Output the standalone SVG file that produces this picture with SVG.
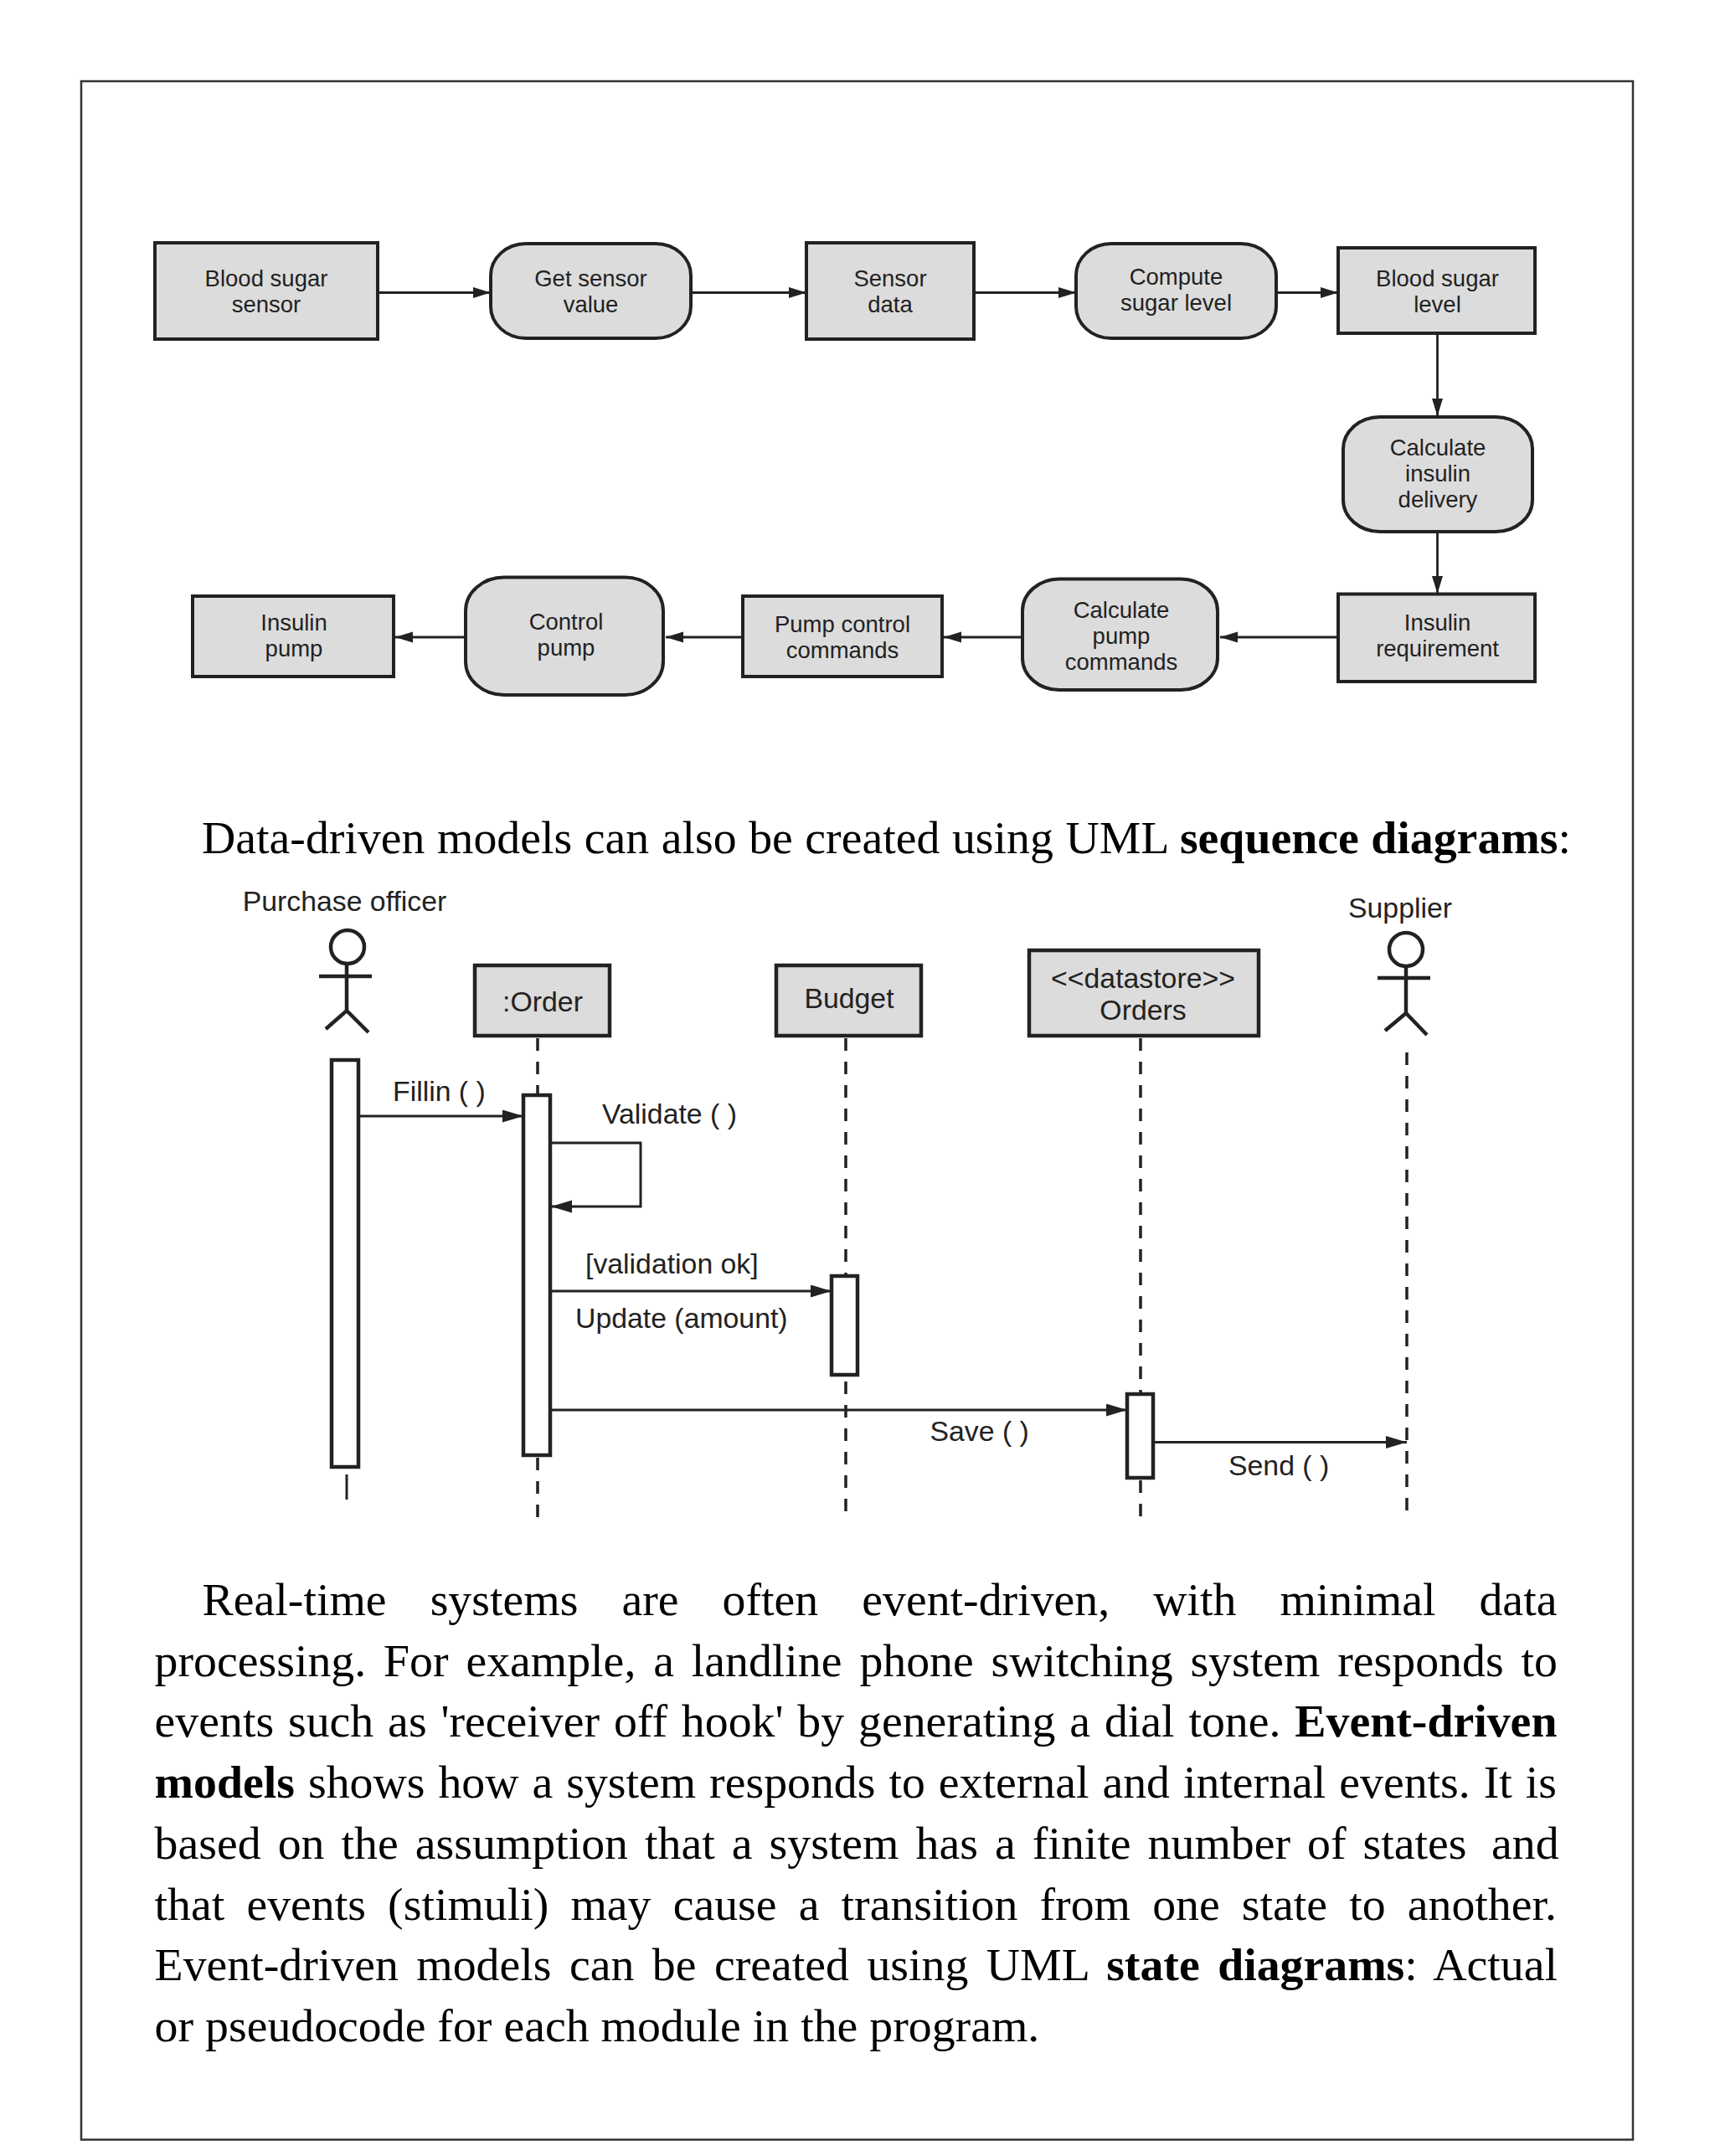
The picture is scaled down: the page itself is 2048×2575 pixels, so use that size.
<svg xmlns="http://www.w3.org/2000/svg" width="2048" height="2575" viewBox="0 0 2048 2575">
<style>
.box{fill:#dcdcdc;stroke:#222;stroke-width:4}
.sbox{fill:#dcdcdc;stroke:#222;stroke-width:4.5}
.act{fill:#fff;stroke:#222;stroke-width:4.5}
.lbl{font-family:"Liberation Sans",Arial,sans-serif;font-size:27.5px;fill:#222;text-anchor:middle}
.seq{font-family:"Liberation Sans",Arial,sans-serif;font-size:33.8px;fill:#222}
.mid{text-anchor:middle}
.body{font-family:"Liberation Serif","Times New Roman",serif;font-size:55.8px;fill:#000}
.b{font-weight:bold}
.con{fill:none;stroke:#222;stroke-width:2.8;marker-end:url(#ah)}
.msg{fill:none;stroke:#222;stroke-width:3;marker-end:url(#ah2)}
.plain{fill:none;stroke:#222;stroke-width:3}
.life{fill:none;stroke:#222;stroke-width:3.5;stroke-dasharray:15 13}
.fig{fill:none;stroke:#222;stroke-width:4.5}
</style>
<defs>
<marker id="ah" markerUnits="userSpaceOnUse" markerWidth="22" markerHeight="14" refX="21" refY="6.500" orient="auto">
<path d="M0 0L21 6.500L0 13Z" fill="#222"/>
</marker>
<marker id="ah2" markerUnits="userSpaceOnUse" markerWidth="26" markerHeight="16" refX="25" refY="7.500" orient="auto">
<path d="M0 0L25 7.500L0 15Z" fill="#222"/>
</marker>
</defs>
<rect width="2048" height="2575" fill="#fff"/>
<rect id="frame" x="97" y="97" width="1853" height="2458.500" fill="none" stroke="#333" stroke-width="2.5"/>

<g id="n-blood-sensor"><rect class="box" x="185" y="290" width="266" height="115"/><text class="lbl" x="318" y="342">Blood sugar<tspan x="318" y="373">sensor</tspan></text></g>
<g id="n-get-sensor"><rect class="box" x="586" y="291" width="239" height="113" rx="42" ry="38"/><text class="lbl" x="705.500" y="342">Get sensor<tspan x="705.500" y="373">value</tspan></text></g>
<g id="n-sensor-data"><rect class="box" x="963" y="290" width="200" height="115"/><text class="lbl" x="1063" y="342">Sensor<tspan x="1063" y="373">data</tspan></text></g>
<g id="n-compute"><rect class="box" x="1285" y="291" width="239" height="113" rx="42" ry="38"/><text class="lbl" x="1404.500" y="340">Compute<tspan x="1404.500" y="371">sugar level</tspan></text></g>
<g id="n-blood-level"><rect class="box" x="1598" y="296" width="235" height="102"/><text class="lbl" x="1716.500" y="342">Blood sugar<tspan x="1716.500" y="373">level</tspan></text></g>
<g id="n-calc-insulin"><rect class="box" x="1604" y="498" width="226" height="137" rx="44" ry="38"/><text class="lbl" x="1717" y="543.500">Calculate<tspan x="1717" y="574.500">insulin</tspan><tspan x="1717" y="605.500">delivery</tspan></text></g>
<g id="n-insulin-req"><rect class="box" x="1598" y="709.500" width="235" height="104.500"/><text class="lbl" x="1716.500" y="753">Insulin<tspan x="1716.500" y="784">requirement</tspan></text></g>
<g id="n-calc-pump"><rect class="box" x="1221" y="691.500" width="233" height="132.500" rx="44" ry="38"/><text class="lbl" x="1339" y="738">Calculate<tspan x="1339" y="769">pump</tspan><tspan x="1339" y="800">commands</tspan></text></g>
<g id="n-pump-cmd"><rect class="box" x="887" y="712" width="238" height="96"/><text class="lbl" x="1006" y="755">Pump control<tspan x="1006" y="786">commands</tspan></text></g>
<g id="n-control-pump"><rect class="box" x="556" y="689.500" width="236" height="140.500" rx="46" ry="40"/><text class="lbl" x="676" y="752">Control<tspan x="676" y="783">pump</tspan></text></g>
<g id="n-insulin-pump"><rect class="box" x="230" y="712" width="240" height="96"/><text class="lbl" x="351" y="753">Insulin<tspan x="351" y="784">pump</tspan></text></g>

<g id="connectors">
<path class="con" d="M451 349.500H586"/>
<path class="con" d="M825 349.500H963"/>
<path class="con" d="M1163 349.500H1285"/>
<path class="con" d="M1524 349.500H1598"/>
<path class="con" d="M1716.500 398V497"/>
<path class="con" d="M1716.500 635V709"/>
<path class="con" d="M1598 761H1457"/>
<path class="con" d="M1221 761H1127"/>
<path class="con" d="M887 761H795"/>
<path class="con" d="M556 761H472"/>
<path class="life" d="M642 1240V1308M642 1741V1812"/>
<path class="life" d="M1010 1240V1524M1010 1650V1806"/>
<path class="life" d="M1362 1240V1665M1362 1768V1811"/>
<path class="life" d="M1680 1257V1806"/>
<path class="plain" d="M414 1761V1791"/>
<path class="msg" d="M430 1333H625"/>
<path class="msg" d="M658 1365H765V1441H658"/>
<path class="msg" d="M658 1542H993"/>
<path class="msg" d="M658 1684H1346"/>
<path class="msg" d="M1378 1722.500H1680"/>
<text class="seq" x="469" y="1314.500">Fillin ( )</text>
<text class="seq" x="719" y="1341.500">Validate ( )</text>
<text class="seq" x="699" y="1520.500">[validation ok]</text>
<text class="seq" x="687" y="1585.500">Update (amount)</text>
<text class="seq" x="1110.500" y="1720.500">Save ( )</text>
<text class="seq" x="1467" y="1761.500">Send ( )</text>
</g>

<g id="a-purchase">
<text class="seq mid" x="411.500" y="1087.500">Purchase officer</text>
<ellipse class="fig" cx="415" cy="1131" rx="20" ry="20"/>
<path class="fig" d="M381 1166H444M414 1151V1207M389 1229L414 1207L440 1233"/>
<rect class="act" x="396" y="1266" width="32" height="486"/>
</g>
<g id="n-order"><rect class="sbox" x="567" y="1153" width="161" height="84"/><text class="seq mid" x="648" y="1207.500">:Order</text><rect class="act" x="625" y="1308" width="32" height="430"/></g>
<g id="n-budget"><rect class="sbox" x="927" y="1153" width="173" height="84"/><text class="seq mid" x="1014" y="1203.500">Budget</text><rect class="act" x="993" y="1524" width="31" height="118"/></g>
<g id="n-orders"><rect class="sbox" x="1229" y="1135" width="274" height="102"/><text class="seq mid" x="1365" y="1179.500">&lt;&lt;datastore&gt;&gt;<tspan x="1365" y="1217.500">Orders</tspan></text><rect class="act" x="1346" y="1665" width="31" height="100"/></g>
<g id="a-supplier">
<text class="seq mid" x="1672" y="1095.500">Supplier</text>
<ellipse class="fig" cx="1679" cy="1134" rx="20" ry="20"/>
<path class="fig" d="M1645 1168H1708M1679 1154V1210M1654 1231L1679 1210L1704 1236"/>
</g>

<g id="text">
<text class="body" x="241" y="1019" word-spacing="0.6">Data-driven models can also be created using UML <tspan class="b">sequence diagrams</tspan>:</text>
<text class="body" x="241.600" y="1929" word-spacing="38.1">Real-time systems are often event-driven, with minimal data</text>
<text class="body" x="184.600" y="2001.700" word-spacing="6.9">processing. For example, a landline phone switching system responds to</text>
<text class="body" x="184.600" y="2074.400" word-spacing="2.9">events such as 'receiver off hook' by generating a dial tone. <tspan class="b">Event-driven</tspan></text>
<text class="body" x="184.600" y="2147.100" word-spacing="2">
<tspan class="b">models</tspan> shows how a system responds to external and internal events. It is</text>
<text class="body" x="184.600" y="2219.800" word-spacing="6.1">based on the assumption that a system has a finite number of states&#160; <tspan x="1781">and</tspan></text>
<text class="body" x="184.600" y="2292.500" word-spacing="12.2">that events (stimuli) may cause a transition from one state to another.</text>
<text class="body" x="184.600" y="2365.200" word-spacing="7.5">Event-driven models can be created using UML <tspan class="b">state diagrams</tspan>: Actual</text>
<text class="body" x="184.600" y="2438">or pseudocode for each module in the program.</text>
</g>
</svg>
